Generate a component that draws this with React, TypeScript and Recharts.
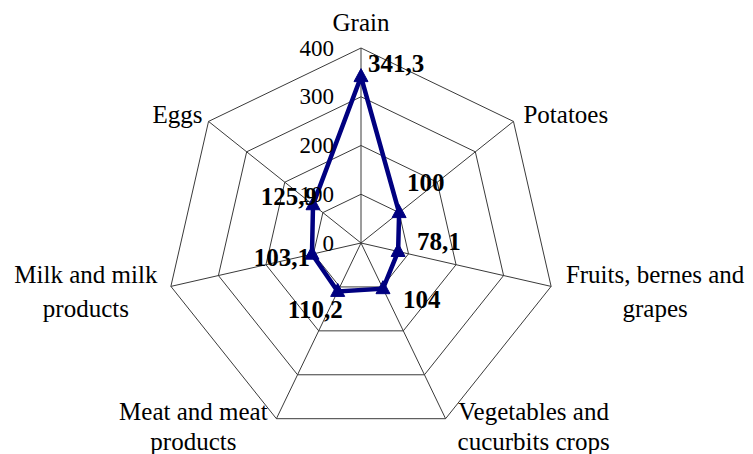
import React from "react";
import {
  RadarChart,
  Radar,
  PolarGrid,
  PolarAngleAxis,
  PolarRadiusAxis,
} from "recharts";

const categories = [
  "Grain",
  "Potatoes",
  "Fruits, bernes and grapes",
  "Vegetables and cucurbits crops",
  "Meat and meat products",
  "Milk and milk products",
  "Eggs",
];
const values = [341.3, 100, 78.1, 104, 110.2, 103.1, 125.9];
const valueLabels = ["341,3", "100", "78,1", "104", "110,2", "103,1", "125,9"];
const radiusTicks = [0, 100, 200, 300, 400];

const data = categories.map((name, i) => ({ name, value: values[i], label: valueLabels[i] }));

const FONT = "'Liberation Serif', 'Times New Roman', serif";
const NAVY = "#000080";

// category label lines and placement relative to the outer vertex
const catLayout = [
  { lines: ["Grain"], anchor: "middle", dx: 0, dy: [-17] },
  { lines: ["Potatoes"], anchor: "start", dx: 10, dy: [2] },
  { lines: ["Fruits, bernes and", "grapes"], anchor: "middle", dx: 104, dy: [-3, 31] },
  { lines: ["Vegetables and", "cucurbits crops"], anchor: "middle", dx: 88, dy: [1, 31] },
  { lines: ["Meat and meat", "products"], anchor: "middle", dx: -83, dy: [1, 31] },
  { lines: ["Milk and milk", "products"], anchor: "middle", dx: -85, dy: [-3, 31] },
  { lines: ["Eggs"], anchor: "end", dx: -6, dy: [2] },
];

// value label offsets from the data point
const valLayout = [
  { anchor: "start", dx: 7, dy: -13 },
  { anchor: "start", dx: 8, dy: -30 },
  { anchor: "start", dx: 19, dy: -10 },
  { anchor: "start", dx: 20, dy: 11 },
  { anchor: "end", dx: 5, dy: 18 },
  { anchor: "end", dx: -2, dy: 3 },
  { anchor: "end", dx: 4, dy: -8 },
];

const AngleTick = (props: any) => {
  const { cx, cy, radius, payload, index } = props;
  const rad = (-payload.coordinate * Math.PI) / 180;
  const vx = cx + radius * Math.cos(rad);
  const vy = cy + radius * Math.sin(rad);
  const l = catLayout[index];
  return (
    <g>
      {l.lines.map((line, k) => (
        <text
          key={k}
          x={vx + l.dx}
          y={vy + l.dy[k]}
          textAnchor={l.anchor}
          fontFamily={FONT}
          fontSize={25}
          fill="#000"
        >
          {line}
        </text>
      ))}
    </g>
  );
};

const RadiusTick = (props: any) => {
  const { x, y, payload } = props;
  return (
    <text
      x={x - 27}
      y={y}
      textAnchor="end"
      dominantBaseline="central"
      fontFamily={FONT}
      fontSize={23}
      fill="#000"
    >
      {payload.value}
    </text>
  );
};

const TriangleDot = (props: any) => {
  const { cx, cy } = props;
  return (
    <path
      d={`M${cx},${cy - 8} L${cx + 7},${cy + 5} L${cx - 7},${cy + 5} Z`}
      fill={NAVY}
      stroke={NAVY}
      strokeWidth={1}
    />
  );
};

const ValueLabel = (props: any) => {
  const { x, y, index } = props;
  const l = valLayout[index];
  return (
    <text
      x={x + l.dx}
      y={y + l.dy}
      textAnchor={l.anchor}
      dominantBaseline="central"
      fontFamily={FONT}
      fontSize={25}
      fontWeight="bold"
      fill="#000"
    >
      {valueLabels[index]}
    </text>
  );
};

export default function App() {
  return (
    <div style={{ position: "absolute", left: 0, top: 0, background: "#fff" }}>
      <RadarChart
        width={753}
        height={454}
        data={data}
        cx={361}
        cy={243}
        outerRadius={195}
        startAngle={90}
        endAngle={-270}
      >
        <PolarGrid gridType="polygon" stroke="#3a3a3a" strokeWidth={1} />
        <PolarAngleAxis dataKey="name" tick={<AngleTick />} tickLine={false} axisLine={false} />
        <PolarRadiusAxis
          angle={90}
          domain={[0, 400]}
          ticks={radiusTicks as any}
          tickCount={5}
          tick={<RadiusTick />}
          axisLine={false}
          tickLine={false}
        />
        <Radar
          dataKey="value"
          stroke={NAVY}
          strokeWidth={4.5}
          fill="none"
          fillOpacity={0}
          dot={<TriangleDot />}
          label={<ValueLabel />}
          isAnimationActive={false}
        />
      </RadarChart>
    </div>
  );
}
